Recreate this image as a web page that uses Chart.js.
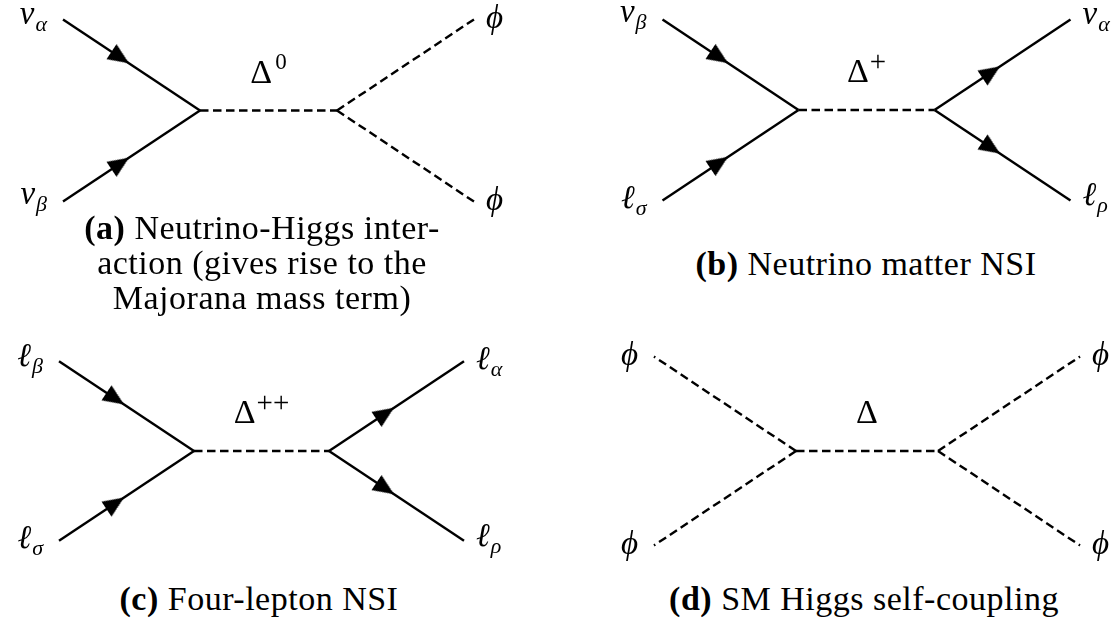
<!DOCTYPE html>
<html>
<head>
<meta charset="utf-8">
<script src="https://cdn.jsdelivr.net/npm/chart.js@4.4.1/dist/chart.umd.min.js"></script>
<style>
  html, body { margin: 0; padding: 0; background: #fff; }
  #page { position: relative; width: 1120px; height: 626px; overflow: hidden; }
  #page canvas { position: absolute; }
  .caption {
    position: absolute; width: 560px; text-align: center; white-space: nowrap;
    font-family: "Liberation Serif", "DejaVu Serif", serif;
    font-size: 34px; line-height: 35px; letter-spacing: 0.5px; color: #000;
  }
</style>
</head>
<body>
<div id="page"></div>
<script>
// ---------- DATA ----------
// node positions in diagram units: two incoming legs, two vertices, two outgoing legs
const nodeIds = ["in1", "in2", "v1", "v2", "out1", "out2"];
const nodeX = [-3, -3, -1, 1, 3, 3];
const nodeY = [1.33, -1.33, 0, 0, 1.33, -1.33];

// edges: [from, to, type]
const edgesA = [["in1", "v1", "fermion"], ["in2", "v1", "fermion"], ["v1", "v2", "scalar"], ["v2", "out1", "scalar"], ["v2", "out2", "scalar"]];
const edgesB = [["in1", "v1", "fermion"], ["in2", "v1", "fermion"], ["v1", "v2", "scalar"], ["v2", "out1", "fermion"], ["v2", "out2", "fermion"]];
const edgesC = [["in1", "v1", "fermion"], ["in2", "v1", "fermion"], ["v1", "v2", "scalar"], ["v2", "out1", "fermion"], ["v2", "out2", "fermion"]];
const edgesD = [["v1", "in1", "scalar"], ["v1", "in2", "scalar"], ["v1", "v2", "scalar"], ["v2", "out1", "scalar"], ["v2", "out2", "scalar"]];

// leg labels in order in1, in2, out1, out2: [symbol, subscript]
const legLabelsA = [["ν", "α"], ["ν", "β"], ["ϕ", ""], ["ϕ", ""]];
const legLabelsB = [["ν", "β"], ["ℓ", "σ"], ["ν", "α"], ["ℓ", "ρ"]];
const legLabelsC = [["ℓ", "β"], ["ℓ", "σ"], ["ℓ", "α"], ["ℓ", "ρ"]];
const legLabelsD = [["ϕ", ""], ["ϕ", ""], ["ϕ", ""], ["ϕ", ""]];

// propagator labels: [symbol, superscript]
const propLabels = [["Δ", "0"], ["Δ", "+"], ["Δ", "++"], ["Δ", ""]];

const captionTags = ["(a)", "(b)", "(c)", "(d)"];
const captionLines = [
  ["Neutrino-Higgs inter-", "action (gives rise to the", "Majorana mass term)"],
  ["Neutrino matter NSI"],
  ["Four-lepton NSI"],
  ["SM Higgs self-coupling"]
];

// ---------- LAYOUT ----------
const panels = [
  { edges: edgesA, legs: legLabelsA, cx: 268.5, cy: 110.5, scale: 68.5, w: 537, h: 221, capX: 262, capTop: 210 },
  { edges: edgesB, legs: legLabelsB, cx: 866.5, cy: 110, scale: 68, w: 507, h: 220, capX: 866, capTop: 246 },
  { edges: edgesC, legs: legLabelsC, cx: 261.5, cy: 451, scale: 67.5, w: 523, h: 240, capX: 259, capTop: 581 },
  { edges: edgesD, legs: legLabelsD, cx: 867, cy: 451, scale: 71, w: 506, h: 240, capX: 864, capTop: 581 }
];

const SERIF = '"Liberation Serif", "DejaVu Serif", serif';

function nodeOf(id) {
  const i = nodeIds.indexOf(id);
  return { x: nodeX[i], y: nodeY[i] };
}

// arrow head pointing up; tip sits slightly behind the canvas centre
function makeArrow(len, width, back) {
  const c = document.createElement("canvas");
  c.width = c.height = Math.ceil(len + back) * 2 + 2;
  const g = c.getContext("2d");
  const m = c.width / 2;
  g.fillStyle = "#000";
  g.beginPath();
  g.moveTo(m, m + back);
  g.lineTo(m - width / 2, m + back + len);
  g.lineTo(m + width / 2, m + back + len);
  g.closePath();
  g.fill();
  return c;
}
const arrowHead = makeArrow(21, 18, 3);

function drawMath(ctx, main, script, x, baseline, bigFont, smallFont, scriptDy, gap) {
  ctx.font = bigFont;
  ctx.fillText(main, x, baseline);
  const w = ctx.measureText(main).width;
  if (script) {
    ctx.font = smallFont;
    ctx.fillText(script, x + w + gap, baseline + scriptDy);
  }
}

function mathBox(ctx, main, script, bigFont, smallFont, scriptDy, gap) {
  ctx.font = bigFont;
  const m1 = ctx.measureText(main);
  let width = m1.width, top = -m1.actualBoundingBoxAscent, bottom = m1.actualBoundingBoxDescent;
  if (script) {
    ctx.font = smallFont;
    const m2 = ctx.measureText(script);
    width += gap + m2.width;
    top = Math.min(top, scriptDy - m2.actualBoundingBoxAscent);
    bottom = Math.max(bottom, scriptDy + m2.actualBoundingBoxDescent);
  }
  return { width, top, bottom };
}

const feynLabels = {
  id: "feynLabels",
  afterDatasetsDraw(chart, args, opts) {
    const ctx = chart.ctx;
    const xs = chart.scales.x, ys = chart.scales.y;
    ctx.save();
    ctx.fillStyle = "#000";
    ctx.textAlign = "left";
    ctx.textBaseline = "alphabetic";

    const legFont = "italic 33px " + SERIF;
    const subFont = "italic 22px " + SERIF;
    ["in1", "in2", "out1", "out2"].forEach((id, k) => {
      const [sym, sub] = opts.legs[k];
      const n = nodeOf(id);
      const px = xs.getPixelForValue(n.x), py = ys.getPixelForValue(n.y);
      const box = mathBox(ctx, sym, sub, legFont, subFont, 7, 1);
      const baseline = py - (box.top + box.bottom) / 2;
      const x0 = n.x < 0 ? px - 16 - box.width : px + 12;
      drawMath(ctx, sym, sub, x0, baseline, legFont, subFont, 7, 1);
    });

    const [psym, psup] = opts.prop;
    const a = nodeOf("v1"), b = nodeOf("v2");
    const mx = xs.getPixelForValue((a.x + b.x) / 2), my = ys.getPixelForValue((a.y + b.y) / 2);
    const pFont = "34px " + SERIF;
    const isPlus = psup.indexOf("+") >= 0;
    const supFont = (isPlus ? "29px " : "23px ") + SERIF;
    const supDy = isPlus ? -11 : -14;
    const pbox = mathBox(ctx, psym, psup, pFont, supFont, supDy, isPlus ? 1 : 3);
    drawMath(ctx, psym, psup, mx - pbox.width / 2, my - 28, pFont, supFont, supDy, isPlus ? 1 : 3);
    ctx.restore();
  }
};

// ---------- BUILD ----------
const page = document.getElementById("page");

panels.forEach((p, i) => {
  const canvas = document.createElement("canvas");
  canvas.width = p.w;
  canvas.height = p.h;
  canvas.style.width = p.w + "px";
  canvas.style.height = p.h + "px";
  canvas.style.left = (p.cx - p.w / 2) + "px";
  canvas.style.top = (p.cy - p.h / 2) + "px";
  page.appendChild(canvas);

  const datasets = p.edges.map(([from, to, type]) => ({
    data: [nodeOf(from), nodeOf(to)],
    showLine: true,
    borderColor: "#000",
    borderWidth: 2.4,
    borderDash: type === "scalar" ? [8.5, 4.5] : [],
    borderCapStyle: "butt",
    pointRadius: 0,
    fill: false
  }));

  const fermions = p.edges.filter(e => e[2] === "fermion");
  if (fermions.length) {
    const mids = fermions.map(([from, to]) => {
      const s = nodeOf(from), t = nodeOf(to);
      return { x: (s.x + t.x) / 2, y: (s.y + t.y) / 2 };
    });
    const rots = fermions.map(([from, to]) => {
      const s = nodeOf(from), t = nodeOf(to);
      return Math.atan2(t.x - s.x, t.y - s.y) * 180 / Math.PI;
    });
    datasets.push({
      data: mids,
      showLine: false,
      pointStyle: arrowHead,
      pointRadius: 10,
      pointRotation: rots,
      order: -1
    });
  }

  new Chart(canvas, {
    type: "scatter",
    data: { datasets },
    options: {
      responsive: false,
      devicePixelRatio: 1,
      animation: false,
      events: [],
      layout: { padding: 0, autoPadding: false },
      scales: {
        x: { type: "linear", min: -p.w / 2 / p.scale, max: p.w / 2 / p.scale, display: false },
        y: { type: "linear", min: -p.h / 2 / p.scale, max: p.h / 2 / p.scale, display: false }
      },
      plugins: {
        legend: { display: false },
        tooltip: { enabled: false },
        feynLabels: { legs: p.legs, prop: propLabels[i] }
      }
    },
    plugins: [feynLabels]
  });

  const cap = document.createElement("div");
  cap.className = "caption";
  cap.style.left = (p.capX - 280) + "px";
  cap.style.top = p.capTop + "px";
  cap.innerHTML = "<b>" + captionTags[i] + "</b> " + captionLines[i].join("<br>");
  page.appendChild(cap);
});
</script>
</body>
</html>
